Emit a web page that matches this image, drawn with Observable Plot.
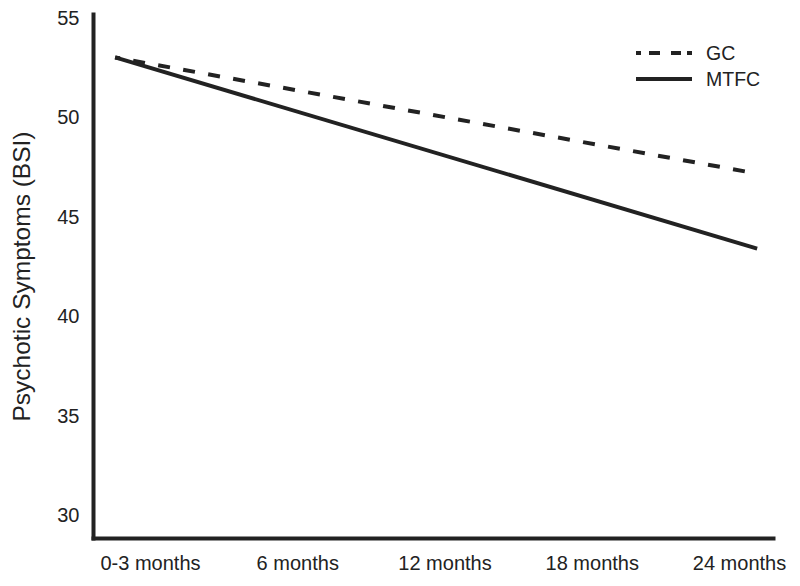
<!DOCTYPE html>
<html>
<head>
<meta charset="utf-8">
<script src="https://cdn.jsdelivr.net/npm/d3@7"></script>
<script src="https://cdn.jsdelivr.net/npm/@observablehq/plot@0.6"></script>
<style>
  html, body { margin: 0; padding: 0; background: #fff; }
  #wrap { position: relative; width: 800px; height: 586px; font-family: "Liberation Sans", Arial, sans-serif; color: #222; }
  #legend { position: absolute; left: 630px; top: 40px; font-size: 19.5px; line-height: 26px; }
  #legend .row { display: flex; align-items: center; height: 26px; }
  #legend svg { margin-right: 12px; }
</style>
</head>
<body>
<div id="wrap"></div>
<script>
// Data
const timeLabels = ["0-3 months", "6 months", "12 months", "18 months", "24 months"];
const timeIndex = [0, 1, 2, 3, 4];
const yTicks = [30, 35, 40, 45, 50, 55];
const groups = ["GC", "MTFC"];
// line endpoints (x in time-label units, y in BSI)
const lineX = [-0.24, 4.12];
const gcValues = [53.04, 47.2];
const mtfcValues = [53.04, 43.43];
const yLabel = "Psychotic Symptoms (BSI)";

const gcData = lineX.map((x, i) => ({x, y: gcValues[i]}));
const mtfcData = lineX.map((x, i) => ({x, y: mtfcValues[i]}));

const ink = "#222";

const chart = Plot.plot({
  width: 800,
  height: 586,
  marginLeft: 93,
  marginRight: 27,
  marginTop: 14,
  marginBottom: 48,
  style: {fontFamily: "'Liberation Sans', Arial, sans-serif", color: ink, background: "#fff"},
  x: {domain: [-0.387, 4.231]},
  y: {domain: [28.85, 55.2]},
  marks: [
    Plot.axisY({ticks: yTicks, tickSize: 0, tickPadding: 14, fontSize: 20, label: null}),
    Plot.axisX({ticks: timeIndex, tickFormat: i => timeLabels[i], tickSize: 0, tickPadding: 17, fontSize: 20, label: null}),
    Plot.line(mtfcData, {x: "x", y: "y", stroke: ink, strokeWidth: 4, strokeLinecap: "butt"}),
    Plot.line(gcData, {x: "x", y: "y", stroke: ink, strokeWidth: 4, strokeLinecap: "butt", strokeDasharray: "12 13.4", strokeDashoffset: 7.1}),
    Plot.frame({anchor: "left", stroke: ink, strokeWidth: 4}),
    Plot.frame({anchor: "bottom", stroke: ink, strokeWidth: 4}),
    Plot.text([yLabel], {frameAnchor: "left", textAnchor: "middle", rotate: -90, dx: -71, fontSize: 24.5, fill: ink})
  ]
});

const wrap = document.getElementById("wrap");
wrap.appendChild(chart);

// Legend
const legend = document.createElement("div");
legend.id = "legend";
const styles = {GC: "5 8 11 11 10 6 5 100", MTFC: null};
groups.forEach(g => {
  const row = document.createElement("div");
  row.className = "row";
  const dash = styles[g] ? `stroke-dasharray="${styles[g]}"` : "";
  row.innerHTML = `<svg width="64" height="8"><line x1="6" x2="62" y1="4" y2="4" stroke="${ink}" stroke-width="4" ${dash}/></svg><span>${g}</span>`;
  legend.appendChild(row);
});
wrap.appendChild(legend);
</script>
</body>
</html>
